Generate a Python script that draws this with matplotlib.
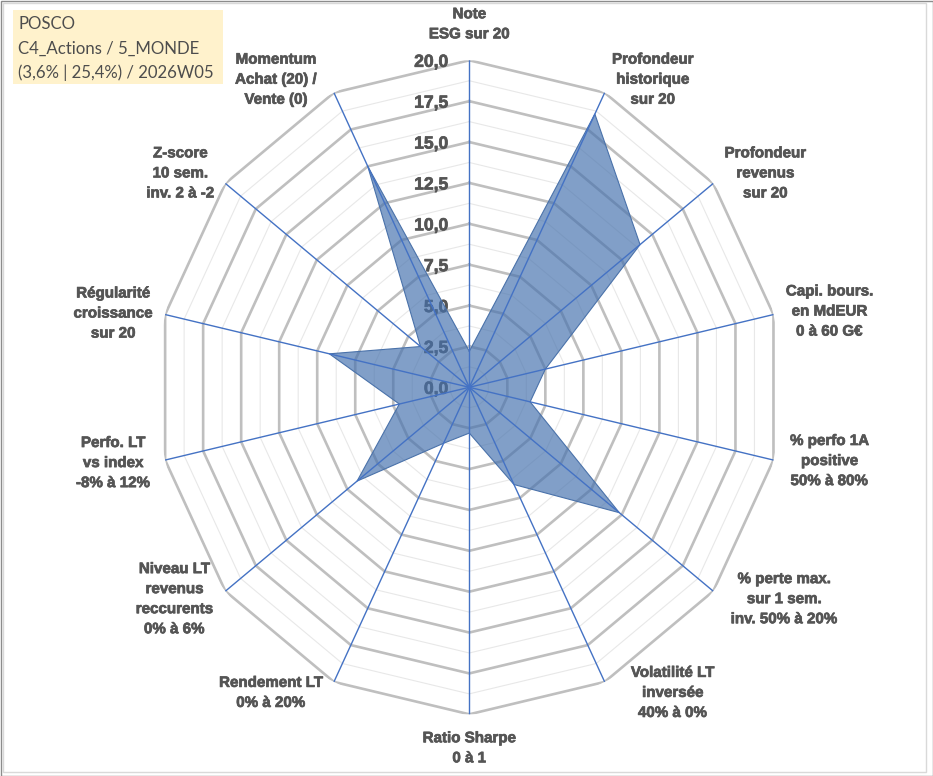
import numpy as np
import matplotlib
matplotlib.use("Agg")
import matplotlib.pyplot as plt
import matplotlib.patheffects as pe
from matplotlib.patches import Rectangle

# axes labels, clockwise from the top
categories = [
    "Note\nESG sur 20",
    "Profondeur\nhistorique\nsur 20",
    "Profondeur\nrevenus\nsur 20",
    "Capi. bours.\nen MdEUR\n0 à 60 G€",
    "% perfo 1A\npositive\n50% à 80%",
    "% perte max.\nsur 1 sem.\ninv. 50% à 20%",
    "Volatilité LT\ninversée\n40% à 0%",
    "Ratio Sharpe\n0 à 1",
    "Rendement LT\n0% à 20%",
    "Niveau LT\nrevenus\nreccurents\n0% à 6%",
    "Perfo. LT\nvs index\n-8% à 12%",
    "Régularité\ncroissance\nsur 20",
    "Z-score\n10 sem.\ninv. 2 à -2",
    "Momentum\nAchat (20) /\nVente (0)",
]
values = [2.2, 18.55, 14.0, 5.0, 4.0, 12.3, 6.6, 2.8, 3.8, 9.2, 4.6, 9.2, 4.0, 15.0]
ticks = [0, 2.5, 5, 7.5, 10, 12.5, 15, 17.5, 20]
tick_labels = ["0,0", "2,5", "5,0", "7,5", "10,0", "12,5", "15,0", "17,5", "20,0"]
minor_ticks = [1.25, 3.75, 6.25, 8.75, 11.25, 13.75, 16.25, 18.75]
title_lines = ["POSCO", "C4_Actions / 5_MONDE", "(3,6% | 25,4%) / 2026W05"]

# label offsets from the end of each spoke, in pixels
label_offsets = [(0, 36), (48, 13), (52, 10), (56, 3), (56, -1), (71, -8), (68, -11),
                 (0, -34), (-63, -11), (-51, -8), (-52, -3), (-52, 1), (-45, 10), (-58, 13)]

W, H = 933, 776
fig = plt.figure(figsize=(W / 100, H / 100), dpi=100)
fig.patch.set_facecolor("white")

cx, cy = 469.3, H - 387.3
rx, ry = 312, 327
ax = fig.add_axes([(cx - rx) / W, (cy - ry) / H, 2 * rx / W, 2 * ry / H], projection="polar")
ax.set_aspect("auto")
ax.set_theta_zero_location("N")
ax.set_theta_direction(-1)
ax.set_ylim(0, 20)
ax.grid(False)
ax.spines["polar"].set_visible(False)
ax.set_xticks([])
ax.set_yticks([])
ax.patch.set_alpha(0)

n = len(categories)
theta = np.arange(n) * 2 * np.pi / n
theta_c = np.append(theta, theta[0])

for r in minor_ticks:
    ax.plot(theta_c, [r] * (n + 1), color="#E8E8E8", lw=0.8, zorder=1)
for r in ticks[1:]:
    ax.plot(theta_c, [r] * (n + 1), color="#BFBFBF", lw=1.9, zorder=1.5)

txt_color = "#555555"
bold_fx = [pe.withStroke(linewidth=0.5, foreground=txt_color)]

for v, lab in zip(ticks, tick_labels):
    ax.annotate(lab, xy=(0, v), xytext=(-21, -2), textcoords="offset pixels",
                ha="right", va="center", fontsize=12.6, fontweight="bold",
                color=txt_color, family="Liberation Sans", zorder=1.8,
                path_effects=bold_fx)

vals_c = np.append(values, values[0])
ax.fill(theta_c, vals_c, color="#4672AE", alpha=0.68, lw=0, zorder=2)
ax.plot(theta_c, vals_c, color="#4A72AA", lw=0.8, zorder=2.1)

for t in theta:
    ax.plot([t, t], [0, 20], color="#4472C4", lw=1.0, zorder=3)

for t, lab, (ox, oy) in zip(theta, categories, label_offsets):
    ax.annotate(lab, xy=(t, 20), xytext=(ox, oy), textcoords="offset pixels",
                ha="center", va="center", fontsize=10.9, fontweight="bold",
                color=txt_color, family="Liberation Sans", linespacing=1.55,
                annotation_clip=False, path_effects=bold_fx)

# title box
fig.patches.append(Rectangle((13 / W, 1 - 84 / H), 210 / W, 74 / H, transform=fig.transFigure,
                             facecolor="#FFF2CC", edgecolor="none", zorder=0))
for y, line in zip([24, 49, 73], title_lines):
    fig.text(18 / W, 1 - y / H, line, ha="left", va="center",
             fontsize=12.1, color="#4D4D4D", family="Lato")

# frame
fig.patches.append(Rectangle((3 / W, 4 / H), (W - 10) / W, (H - 7) / H, transform=fig.transFigure,
                             facecolor="none", edgecolor="#D9D9D9", lw=1.0))
fig.patches.append(Rectangle((0.5 / W, 0.5 / H), (W - 1) / W, (H - 1) / H, transform=fig.transFigure,
                             facecolor="none", edgecolor="#8C8C8C", lw=1.0))

fig.savefig("out.png", dpi=100)
